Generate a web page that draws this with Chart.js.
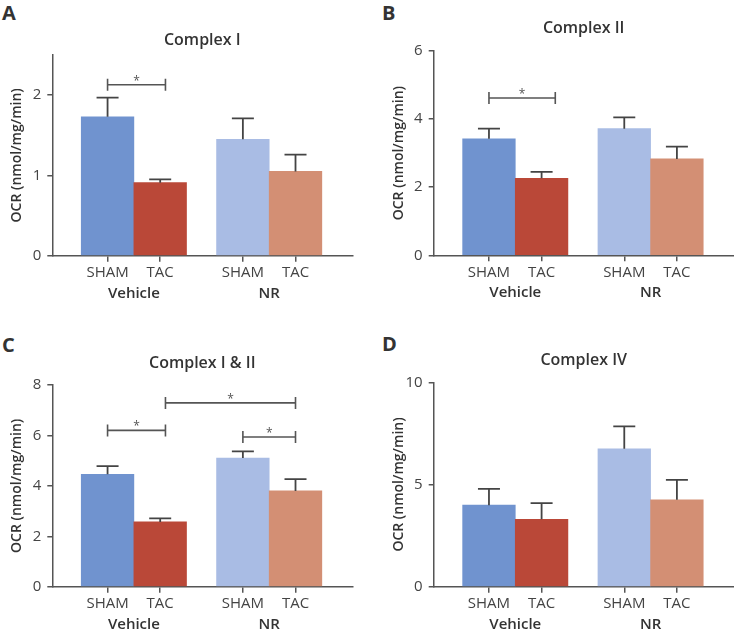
<!DOCTYPE html>
<html><head><meta charset="utf-8">
<script src="https://cdn.jsdelivr.net/npm/chart.js@4.4.0/dist/chart.umd.min.js"></script>
<style>
html,body{margin:0;padding:0;background:#fff;width:734px;height:635px;overflow:hidden;position:relative;}
canvas{position:absolute;}
.letter{position:absolute;font-family:'Open Sans',sans-serif;font-weight:700;font-size:20px;line-height:20px;color:#333;}
</style></head><body>
<div class="letter" style="left:2px;top:3px">A</div>
<div class="letter" style="left:382px;top:3px">B</div>
<div class="letter" style="left:2px;top:335px">C</div>
<div class="letter" style="left:382px;top:334px">D</div>
<canvas id="cA" width="367" height="310" style="left:0;top:0"></canvas>
<canvas id="cB" width="367" height="310" style="left:367px;top:0"></canvas>
<canvas id="cC" width="367" height="317" style="left:0;top:318px"></canvas>
<canvas id="cD" width="367" height="317" style="left:367px;top:318px"></canvas>
<script>
// ---- data ----
const categories = ['SHAM', 'TAC', 'SHAM', 'TAC'];
const groups = ['Vehicle', 'NR'];
const yAxisTitle = 'OCR (nmol/mg/min)';

const titleI = 'Complex I';
const meanI = [1.73, 0.91, 1.45, 1.05];
const semI = [0.24, 0.04, 0.26, 0.21];
const ticksI = [0, 1, 2];
const maxI = 2.5;
const sigI = [[0, 1.1, 2.13]];

const titleII = 'Complex II';
const meanII = [3.42, 2.26, 3.72, 2.83];
const semII = [0.30, 0.19, 0.33, 0.36];
const ticksII = [0, 2, 4, 6];
const maxII = 6;
const sigII = [[0, 1.26, 4.62]];

const titleIII = 'Complex I & II';
const meanIII = [4.46, 2.57, 5.10, 3.80];
const semIII = [0.32, 0.14, 0.27, 0.47];
const ticksIII = [0, 2, 4, 6, 8];
const maxIII = 8;
const sigIII = [[0, 1.1, 6.2], [1.1, 3, 7.29], [2, 3, 5.94]];

const titleIV = 'Complex IV';
const meanIV = [3.99, 3.30, 6.75, 4.25];
const semIV = [0.80, 0.79, 1.09, 0.98];
const ticksIV = [0, 5, 10];
const maxIV = 10;
const sigIV = [];

// ---- styling / layout ----
const barColors = ['#7093cf', '#ba4838', '#a9bce4', '#d38f74'];
const FONT = "'Open Sans', sans-serif";
const GROUP_GAP = 0.571;
function slot(i) { return i + Math.floor(i / 2) * GROUP_GAP; }
const X_MIN = -1.05, X_MAX = 4.65, PLOT_W = 300;

function overlay(mean, sem, sig) {
  return {
    id: 'overlay',
    afterDatasetsDraw(chart) {
      const ctx = chart.ctx, xs = chart.scales.x, ys = chart.scales.y;
      ctx.save();
      ctx.strokeStyle = '#444';
      ctx.lineWidth = 1.8;
      mean.forEach((m, i) => {
        const x = xs.getPixelForValue(slot(i));
        const y0 = ys.getPixelForValue(m), y1 = ys.getPixelForValue(m + sem[i]);
        ctx.beginPath();
        ctx.moveTo(x, y0); ctx.lineTo(x, y1);
        ctx.moveTo(x - 11, y1); ctx.lineTo(x + 11, y1);
        ctx.stroke();
      });
      ctx.strokeStyle = '#555';
      ctx.lineWidth = 1.6;
      ctx.fillStyle = '#555';
      ctx.font = "12px " + FONT;
      ctx.textAlign = 'center';
      ctx.textBaseline = 'alphabetic';
      sig.forEach(([a, b, v]) => {
        const xa = xs.getPixelForValue(slot(a)), xb = xs.getPixelForValue(slot(b));
        const y = ys.getPixelForValue(v);
        ctx.beginPath();
        ctx.moveTo(xa, y); ctx.lineTo(xb, y);
        ctx.moveTo(xa, y - 6); ctx.lineTo(xa, y + 6);
        ctx.moveTo(xb, y - 6); ctx.lineTo(xb, y + 6);
        ctx.stroke();
        const m = ctx.measureText('*');
        const cy = y - 7;
        ctx.fillText('*', (xa + xb) / 2, cy + (m.actualBoundingBoxAscent - m.actualBoundingBoxDescent) / 2);
      });
      ctx.restore();
    }
  };
}

const panels = [
  {id: 'cA', left: 0, top: 0, w: 367, h: 310, L: 52.3, T: 55, B: 255.7, titleY: 40.7,
   title: titleI, mean: meanI, sem: semI, yTicks: ticksI, yMax: maxI, sig: sigI},
  {id: 'cB', left: 367, top: 0, w: 367, h: 310, L: 433.7, T: 51, B: 255.3, titleY: 28.8,
   title: titleII, mean: meanII, sem: semII, yTicks: ticksII, yMax: maxII, sig: sigII},
  {id: 'cC', left: 0, top: 318, w: 367, h: 317, L: 52.3, T: 385, B: 586.7, titleY: 363,
   title: titleIII, mean: meanIII, sem: semIII, yTicks: ticksIII, yMax: maxIII, sig: sigIII},
  {id: 'cD', left: 367, top: 318, w: 367, h: 317, L: 433.7, T: 382.3, B: 586.7, titleY: 360.2,
   title: titleIV, mean: meanIV, sem: semIV, yTicks: ticksIV, yMax: maxIV, sig: sigIV}
];

panels.forEach(p => {
  const yW = p.L - p.left;
  new Chart(document.getElementById(p.id), {
    type: 'bar',
    data: {
      datasets: [{
        data: p.mean.map((v, i) => ({x: slot(i), y: v})),
        backgroundColor: barColors,
        borderWidth: 0,
        barPercentage: 1,
        categoryPercentage: 1
      }]
    },
    options: {
      responsive: false,
      animation: false,
      events: [],
      layout: {padding: {left: 0, top: 0, right: p.w - yW - PLOT_W, bottom: p.h - (p.B - p.top) - 47}},
      plugins: {
        legend: {display: false},
        tooltip: {enabled: false},
        title: {
          display: true, text: p.title, fullSize: false, color: '#333',
          font: {family: FONT, size: 16, weight: '600', lineHeight: 1.2},
          padding: {top: p.titleY - p.top - 9.6, bottom: p.T - p.titleY - 9.6}
        }
      },
      scales: {
        x: {
          type: 'linear', position: 'bottom', min: X_MIN, max: X_MAX, weight: 0, offset: false,
          afterBuildTicks: s => { s.ticks = categories.map((c, i) => ({value: slot(i)})); },
          afterFit: s => { s.height = 27; },
          ticks: {autoSkip: false, maxRotation: 0, minRotation: 0, padding: 2.3, color: '#444',
                  font: {family: FONT, size: 15}, callback: (v, i) => categories[i]},
          grid: {drawOnChartArea: false, drawTicks: true, tickLength: 6, color: '#555', lineWidth: 1.5, offset: false},
          border: {display: true, color: '#555', width: 1.5}
        },
        x2: {
          type: 'linear', position: 'bottom', min: X_MIN, max: X_MAX, weight: 1, offset: false,
          afterBuildTicks: s => { s.ticks = groups.map((g, k) => ({value: (slot(2 * k) + slot(2 * k + 1)) / 2})); },
          afterFit: s => { s.height = 20; },
          ticks: {autoSkip: false, maxRotation: 0, minRotation: 0, padding: 1.8, color: '#333',
                  font: {family: FONT, size: 15, weight: '600'}, callback: (v, i) => groups[i]},
          grid: {display: false, drawTicks: false, drawOnChartArea: false},
          border: {display: false}
        },
        y: {
          min: 0, max: p.yMax,
          afterBuildTicks: s => { s.ticks = p.yTicks.map(v => ({value: v})); },
          afterFit: s => { s.width = yW; },
          ticks: {padding: 6, color: '#444', font: {family: FONT, size: 15}},
          grid: {drawOnChartArea: false, drawTicks: true, tickLength: 5, color: '#555', lineWidth: 1.5},
          border: {display: true, color: '#555', width: 1.5},
          title: {display: true, text: yAxisTitle, color: '#333',
                  font: {family: FONT, size: 14, weight: '600', lineHeight: 1.2},
                  padding: {top: yW - 35 - 8.4, bottom: 0}}
        }
      }
    },
    plugins: [overlay(p.mean, p.sem, p.sig)]
  });
});
</script>
</body></html>
